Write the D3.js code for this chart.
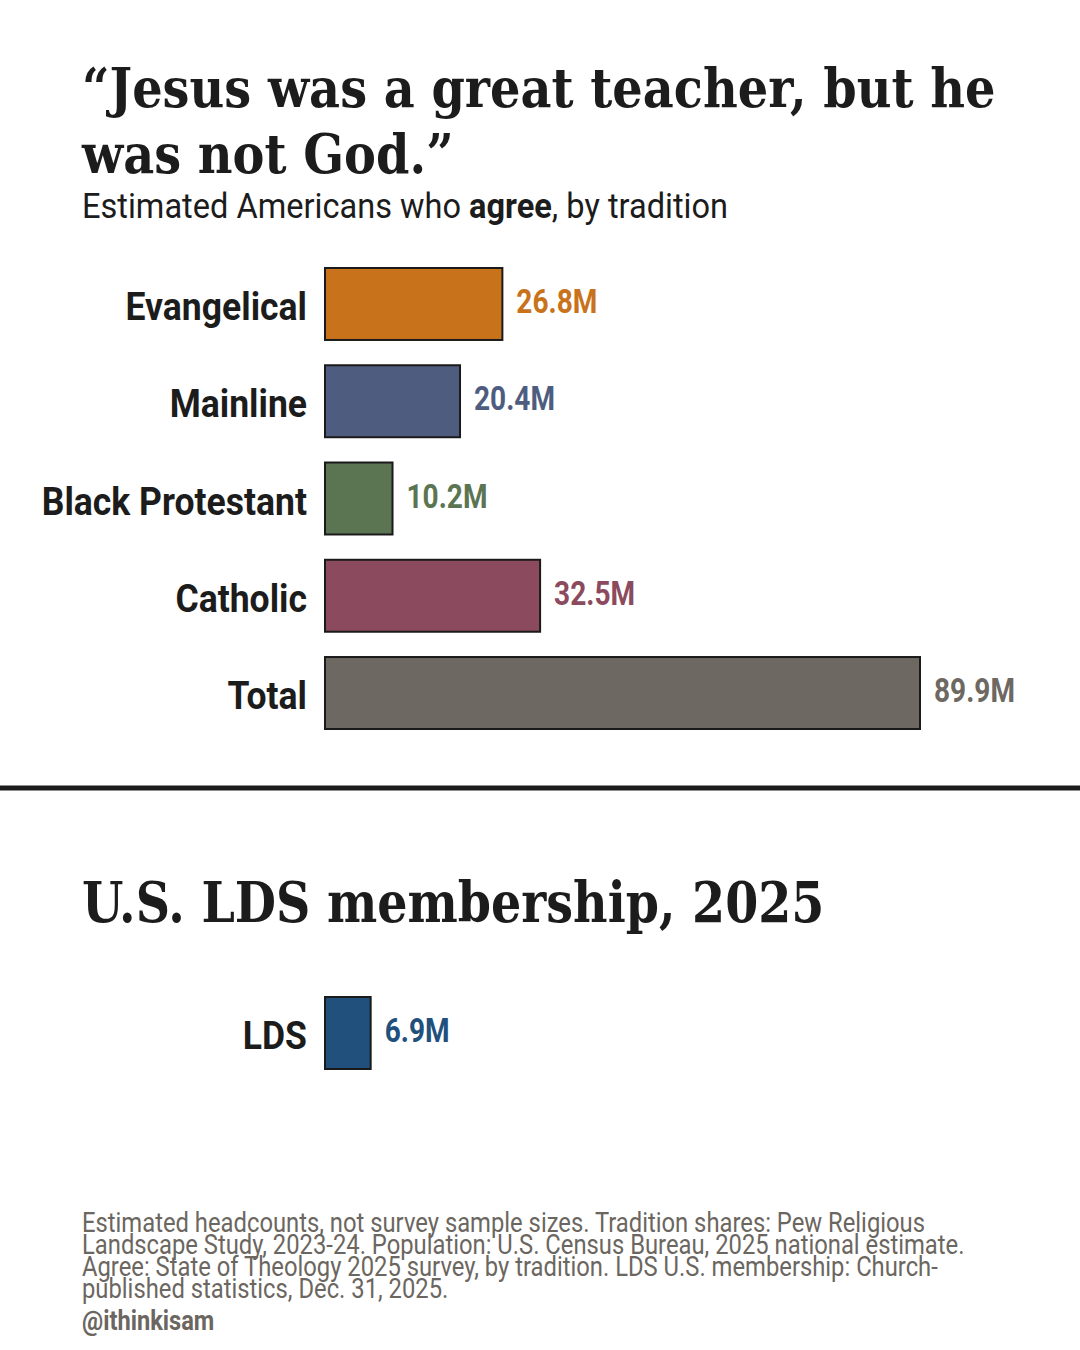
<!DOCTYPE html>
<html>
<head>
<meta charset="utf-8">
<script src="https://cdn.jsdelivr.net/npm/d3@7/dist/d3.min.js"></script>
<style>
  html, body { margin: 0; padding: 0; background: #ffffff; }
  svg { display: block; }
</style>
</head>
<body>
<svg id="chart" width="1080" height="1350"></svg>
<script>
// ---------- DATA ----------
const categories = ["Evangelical", "Mainline", "Black Protestant", "Catholic", "Total"];
const values = [26.8, 20.4, 10.2, 32.5, 89.9];
const valueLabels = ["26.8M", "20.4M", "10.2M", "32.5M", "89.9M"];
const barColors = ["#c8731c", "#4e5d7f", "#5b7553", "#8b4a5d", "#6d6861"];

const ldsCategories = ["LDS"];
const ldsValues = [6.9];
const ldsValueLabels = ["6.9M"];
const ldsColors = ["#21507d"];

const titleLines = ["\u201CJesus was a great teacher, but he", "was not God.\u201D"];
const title2 = "U.S. LDS membership, 2025";
const footLines = [
  "Estimated headcounts, not survey sample sizes. Tradition shares: Pew Religious",
  "Landscape Study, 2023-24. Population: U.S. Census Bureau, 2025 national estimate.",
  "Agree: State of Theology 2025 survey, by tradition. LDS U.S. membership: Church-",
  "published statistics, Dec. 31, 2025."
];
const handle = "@ithinkisam";

// ---------- SETUP ----------
const svg = d3.select("#chart");
svg.append("rect").attr("width", 1080).attr("height", 1350).attr("fill", "#ffffff");

const SERIF = "'Roboto Slab', 'DejaVu Serif', serif";
const COND = "'Roboto', 'Noto Sans', sans-serif";
const INK = "#1c1c1c";

// condense a text element horizontally; anchor: 'start' or 'end' relative to xRef
function condense(sel, factor, anchor, xRef) {
  sel.each(function() {
    const el = d3.select(this);
    const w = this.getComputedTextLength();
    const tw = w * factor;
    el.attr("textLength", tw).attr("lengthAdjust", "spacingAndGlyphs")
      .attr("text-anchor", "start")
      .attr("x", anchor === "end" ? xRef - tw : xRef);
  });
}

const marginLeft = 82;

// ---------- TITLE ----------
titleLines.forEach((t, i) => {
  svg.append("text")
    .attr("y", 107 + i * 66)
    .attr("font-family", SERIF).attr("font-weight", 700)
    .attr("font-size", 55).attr("fill", INK)
    .text(t)
    .call(condense, 0.87, "start", marginLeft);
});

const sub = svg.append("text")
  .attr("y", 218)
  .attr("font-family", COND).attr("font-size", 35).attr("fill", INK);
sub.append("tspan").text("Estimated Americans who ");
sub.append("tspan").attr("font-weight", 700).text("agree");
sub.append("tspan").text(", by tradition");
sub.call(condense, 0.93, "start", marginLeft);

// ---------- MAIN BARS ----------
const x0 = 325;
const x = d3.scaleLinear().domain([0, d3.max(values)]).range([0, 595]);
const y = d3.scaleBand().domain(categories).range([268, 729]).paddingInner(0.26).paddingOuter(0);

const g = svg.append("g");
g.selectAll("rect.bar").data(categories).join("rect")
  .attr("class", "bar")
  .attr("x", x0)
  .attr("y", d => y(d))
  .attr("width", (d, i) => x(values[i]))
  .attr("height", y.bandwidth())
  .attr("fill", (d, i) => barColors[i])
  .attr("stroke", "#1a1a1a").attr("stroke-width", 2);

g.selectAll("text.cat").data(categories).join("text")
  .attr("class", "cat")
  .attr("y", d => y(d) + y.bandwidth() / 2 + 16)
  .attr("font-family", COND).attr("font-weight", 700)
  .attr("font-size", 38).attr("fill", INK)
  .text(d => d)
  .call(condense, 0.935, "end", 307);

g.selectAll("text.val").data(categories).join("text")
  .attr("class", "val")
  .attr("y", d => y(d) + y.bandwidth() / 2 + 9)
  .attr("font-family", COND).attr("font-weight", 700)
  .attr("font-size", 33)
  .attr("fill", (d, i) => barColors[i])
  .text((d, i) => valueLabels[i])
  .each(function(d, i) {
    d3.select(this).call(condense, 0.85, "start", x0 + x(values[i]) + 14);
  });

// ---------- DIVIDER ----------
svg.append("line")
  .attr("x1", 0).attr("x2", 1080).attr("y1", 788).attr("y2", 788)
  .attr("stroke", "#1c1c1c").attr("stroke-width", 5);

// ---------- SECOND PANEL ----------
svg.append("text")
  .attr("y", 922)
  .attr("font-family", SERIF).attr("font-weight", 700)
  .attr("font-size", 56).attr("fill", INK)
  .text(title2)
  .call(condense, 0.849, "start", marginLeft);

const y2 = d3.scaleBand().domain(ldsCategories).range([997, 1069]).padding(0);
const g2 = svg.append("g");
g2.selectAll("rect.bar").data(ldsCategories).join("rect")
  .attr("class", "bar")
  .attr("x", x0)
  .attr("y", d => y2(d))
  .attr("width", (d, i) => x(ldsValues[i]))
  .attr("height", y2.bandwidth())
  .attr("fill", (d, i) => ldsColors[i])
  .attr("stroke", "#1a1a1a").attr("stroke-width", 2);

g2.selectAll("text.cat").data(ldsCategories).join("text")
  .attr("class", "cat")
  .attr("y", d => y2(d) + y2.bandwidth() / 2 + 16)
  .attr("font-family", COND).attr("font-weight", 700)
  .attr("font-size", 38).attr("fill", INK)
  .text(d => d)
  .call(condense, 0.935, "end", 307);

g2.selectAll("text.val").data(ldsCategories).join("text")
  .attr("class", "val")
  .attr("y", d => y2(d) + y2.bandwidth() / 2 + 9)
  .attr("font-family", COND).attr("font-weight", 700)
  .attr("font-size", 33)
  .attr("fill", (d, i) => ldsColors[i])
  .text((d, i) => ldsValueLabels[i])
  .each(function(d, i) {
    d3.select(this).call(condense, 0.85, "start", x0 + x(ldsValues[i]) + 14);
  });

// ---------- FOOTNOTE ----------
footLines.forEach((t, i) => {
  svg.append("text")
    .attr("y", 1232 + i * 22)
    .attr("font-family", COND).attr("font-size", 27).attr("fill", "#6b6660")
    .text(t)
    .call(condense, 0.881, "start", marginLeft);
});
svg.append("text")
  .attr("y", 1330)
  .attr("font-family", COND).attr("font-weight", 700)
  .attr("font-size", 27).attr("fill", "#6b6660")
  .text(handle)
  .call(condense, 0.875, "start", marginLeft);
</script>
</body>
</html>
